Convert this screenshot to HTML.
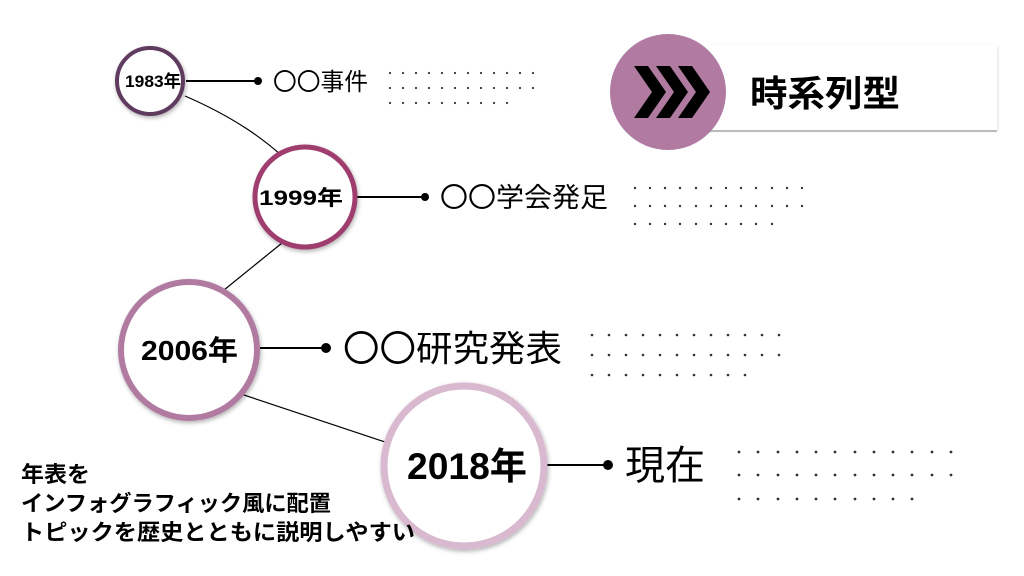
<!DOCTYPE html>
<html><head><meta charset="utf-8"><style>
html,body{margin:0;padding:0;background:#fff;}
svg{display:block;}
text{font-family:"Liberation Sans","Noto Sans CJK JP",sans-serif;}
</style></head><body>
<svg width="1024" height="576" viewBox="0 0 1024 576" xmlns="http://www.w3.org/2000/svg">
<defs>
<filter id="sh" x="-20%" y="-20%" width="140%" height="140%"><feDropShadow dx="1" dy="2" stdDeviation="2" flood-color="#000" flood-opacity="0.3"/></filter>
<filter id="sh2" x="-10%" y="-20%" width="120%" height="140%"><feDropShadow dx="1" dy="1" stdDeviation="1.5" flood-color="#000" flood-opacity="0.12"/></filter>
</defs>
<!-- header -->
<rect x="705" y="45" width="292" height="85" fill="#fff" filter="url(#sh2)"/>
<line x1="705" y1="131" x2="997" y2="131" stroke="#bbb" stroke-width="2"/>
<circle cx="668" cy="92" r="58" fill="#b07aa1"/>
<g fill="#000">
<polygon points="634,66 648,66 666,92 648,118 634,118 652,92"/>
<polygon points="656,66 670,66 688,92 670,118 656,118 674,92"/>
<polygon points="678,66 692,66 710,92 692,118 678,118 696,92"/>
</g>
<text x="750" y="106" font-size="36" font-weight="bold" textLength="150" lengthAdjust="spacingAndGlyphs">時系列型</text>
<!-- connectors -->
<g stroke="#000" fill="none" stroke-width="1.2">
<path d="M185,96 Q245,122 282,156"/>
<line x1="282" y1="243" x2="224" y2="290"/>
<line x1="232" y1="391" x2="388" y2="443"/>
</g>
<g stroke="#000" stroke-width="2">
<line x1="186" y1="81" x2="258" y2="81"/>
<line x1="357" y1="197" x2="425" y2="197"/>
<line x1="260" y1="348" x2="325" y2="348"/>
<line x1="547" y1="465" x2="607" y2="465"/>
</g>
<g fill="#000">
<circle cx="258" cy="81" r="4"/><circle cx="425" cy="197" r="4"/>
<circle cx="326" cy="348" r="5"/><circle cx="608" cy="465" r="5"/>
</g>
<!-- circles -->
<circle cx="150" cy="81" r="33" fill="#fff" stroke="#5e3a5e" stroke-width="4" filter="url(#sh)"/>
<circle cx="305" cy="197" r="50" fill="#fff" stroke="#9e3d6e" stroke-width="5" filter="url(#sh)"/>
<circle cx="189" cy="350" r="68" fill="#fff" stroke="#b07aa1" stroke-width="6" filter="url(#sh)"/>
<circle cx="464" cy="466" r="80" fill="#fff" stroke="#d8b9d0" stroke-width="7" filter="url(#sh)"/>
<g font-weight="bold" fill="#000">
<text x="125" y="87" font-size="17" textLength="56" lengthAdjust="spacingAndGlyphs">1983年</text>
<text x="259" y="205" font-size="21" textLength="84" lengthAdjust="spacingAndGlyphs">1999年</text>
<text x="141" y="360" font-size="28" textLength="97" lengthAdjust="spacingAndGlyphs">2006年</text>
<text x="407" y="479" font-size="37" textLength="120" lengthAdjust="spacingAndGlyphs">2018年</text>
</g>
<!-- labels -->
<text x="273" y="90" font-size="24" textLength="95" lengthAdjust="spacingAndGlyphs">〇〇事件</text>
<text x="440" y="207" font-size="27" textLength="168" lengthAdjust="spacingAndGlyphs">〇〇学会発足</text>
<text x="343" y="361" font-size="36" textLength="219" lengthAdjust="spacingAndGlyphs">〇〇研究発表</text>
<text x="625" y="479" font-size="40" textLength="80" lengthAdjust="spacingAndGlyphs">現在</text>
<!-- dots -->
<g fill="#333">
<g>
<circle cx="390" cy="73" r="1.1"/><circle cx="403" cy="73" r="1.1"/><circle cx="416" cy="73" r="1.1"/><circle cx="429" cy="73" r="1.1"/><circle cx="442" cy="73" r="1.1"/><circle cx="455" cy="73" r="1.1"/><circle cx="468" cy="73" r="1.1"/><circle cx="481" cy="73" r="1.1"/><circle cx="494" cy="73" r="1.1"/><circle cx="507" cy="73" r="1.1"/><circle cx="520" cy="73" r="1.1"/><circle cx="533" cy="73" r="1.1"/>
<circle cx="390" cy="88" r="1.1"/><circle cx="403" cy="88" r="1.1"/><circle cx="416" cy="88" r="1.1"/><circle cx="429" cy="88" r="1.1"/><circle cx="442" cy="88" r="1.1"/><circle cx="455" cy="88" r="1.1"/><circle cx="468" cy="88" r="1.1"/><circle cx="481" cy="88" r="1.1"/><circle cx="494" cy="88" r="1.1"/><circle cx="507" cy="88" r="1.1"/><circle cx="520" cy="88" r="1.1"/><circle cx="533" cy="88" r="1.1"/>
<circle cx="390" cy="103" r="1.1"/><circle cx="403" cy="103" r="1.1"/><circle cx="416" cy="103" r="1.1"/><circle cx="429" cy="103" r="1.1"/><circle cx="442" cy="103" r="1.1"/><circle cx="455" cy="103" r="1.1"/><circle cx="468" cy="103" r="1.1"/><circle cx="481" cy="103" r="1.1"/><circle cx="494" cy="103" r="1.1"/><circle cx="507" cy="103" r="1.1"/>
</g>
<g>
<circle cx="635" cy="188" r="1.2"/><circle cx="650" cy="188" r="1.2"/><circle cx="665" cy="188" r="1.2"/><circle cx="680" cy="188" r="1.2"/><circle cx="696" cy="188" r="1.2"/><circle cx="711" cy="188" r="1.2"/><circle cx="726" cy="188" r="1.2"/><circle cx="741" cy="188" r="1.2"/><circle cx="756" cy="188" r="1.2"/><circle cx="772" cy="188" r="1.2"/><circle cx="787" cy="188" r="1.2"/><circle cx="802" cy="188" r="1.2"/>
<circle cx="635" cy="206" r="1.2"/><circle cx="650" cy="206" r="1.2"/><circle cx="665" cy="206" r="1.2"/><circle cx="680" cy="206" r="1.2"/><circle cx="696" cy="206" r="1.2"/><circle cx="711" cy="206" r="1.2"/><circle cx="726" cy="206" r="1.2"/><circle cx="741" cy="206" r="1.2"/><circle cx="756" cy="206" r="1.2"/><circle cx="772" cy="206" r="1.2"/><circle cx="787" cy="206" r="1.2"/><circle cx="802" cy="206" r="1.2"/>
<circle cx="635" cy="224" r="1.2"/><circle cx="650" cy="224" r="1.2"/><circle cx="665" cy="224" r="1.2"/><circle cx="680" cy="224" r="1.2"/><circle cx="696" cy="224" r="1.2"/><circle cx="711" cy="224" r="1.2"/><circle cx="726" cy="224" r="1.2"/><circle cx="741" cy="224" r="1.2"/><circle cx="756" cy="224" r="1.2"/><circle cx="772" cy="224" r="1.2"/>
</g>
<g>
<circle cx="592" cy="335" r="1.3"/><circle cx="609" cy="335" r="1.3"/><circle cx="626" cy="335" r="1.3"/><circle cx="643" cy="335" r="1.3"/><circle cx="660" cy="335" r="1.3"/><circle cx="677" cy="335" r="1.3"/><circle cx="694" cy="335" r="1.3"/><circle cx="711" cy="335" r="1.3"/><circle cx="728" cy="335" r="1.3"/><circle cx="745" cy="335" r="1.3"/><circle cx="762" cy="335" r="1.3"/><circle cx="779" cy="335" r="1.3"/>
<circle cx="592" cy="355" r="1.3"/><circle cx="609" cy="355" r="1.3"/><circle cx="626" cy="355" r="1.3"/><circle cx="643" cy="355" r="1.3"/><circle cx="660" cy="355" r="1.3"/><circle cx="677" cy="355" r="1.3"/><circle cx="694" cy="355" r="1.3"/><circle cx="711" cy="355" r="1.3"/><circle cx="728" cy="355" r="1.3"/><circle cx="745" cy="355" r="1.3"/><circle cx="762" cy="355" r="1.3"/><circle cx="779" cy="355" r="1.3"/>
<circle cx="592" cy="375" r="1.3"/><circle cx="609" cy="375" r="1.3"/><circle cx="626" cy="375" r="1.3"/><circle cx="643" cy="375" r="1.3"/><circle cx="660" cy="375" r="1.3"/><circle cx="677" cy="375" r="1.3"/><circle cx="694" cy="375" r="1.3"/><circle cx="711" cy="375" r="1.3"/><circle cx="728" cy="375" r="1.3"/><circle cx="745" cy="375" r="1.3"/>
</g>
<g>
<circle cx="739" cy="452" r="1.4"/><circle cx="758" cy="452" r="1.4"/><circle cx="778" cy="452" r="1.4"/><circle cx="797" cy="452" r="1.4"/><circle cx="816" cy="452" r="1.4"/><circle cx="835" cy="452" r="1.4"/><circle cx="855" cy="452" r="1.4"/><circle cx="874" cy="452" r="1.4"/><circle cx="893" cy="452" r="1.4"/><circle cx="912" cy="452" r="1.4"/><circle cx="932" cy="452" r="1.4"/><circle cx="951" cy="452" r="1.4"/>
<circle cx="739" cy="475" r="1.4"/><circle cx="758" cy="475" r="1.4"/><circle cx="778" cy="475" r="1.4"/><circle cx="797" cy="475" r="1.4"/><circle cx="816" cy="475" r="1.4"/><circle cx="835" cy="475" r="1.4"/><circle cx="855" cy="475" r="1.4"/><circle cx="874" cy="475" r="1.4"/><circle cx="893" cy="475" r="1.4"/><circle cx="912" cy="475" r="1.4"/><circle cx="932" cy="475" r="1.4"/><circle cx="951" cy="475" r="1.4"/>
<circle cx="739" cy="499" r="1.4"/><circle cx="758" cy="499" r="1.4"/><circle cx="778" cy="499" r="1.4"/><circle cx="797" cy="499" r="1.4"/><circle cx="816" cy="499" r="1.4"/><circle cx="835" cy="499" r="1.4"/><circle cx="855" cy="499" r="1.4"/><circle cx="874" cy="499" r="1.4"/><circle cx="893" cy="499" r="1.4"/><circle cx="912" cy="499" r="1.4"/>
</g>
</g>
<!-- bottom text -->
<g font-size="22" font-weight="bold" fill="#000">
<text x="21" y="482" textLength="69" lengthAdjust="spacingAndGlyphs">年表を</text>
<text x="21" y="511" textLength="310" lengthAdjust="spacingAndGlyphs">インフォグラフィック風に配置</text>
<text x="21" y="540" textLength="394" lengthAdjust="spacingAndGlyphs">トピックを歴史とともに説明しやすい</text>
</g>
</svg>
</body></html>
